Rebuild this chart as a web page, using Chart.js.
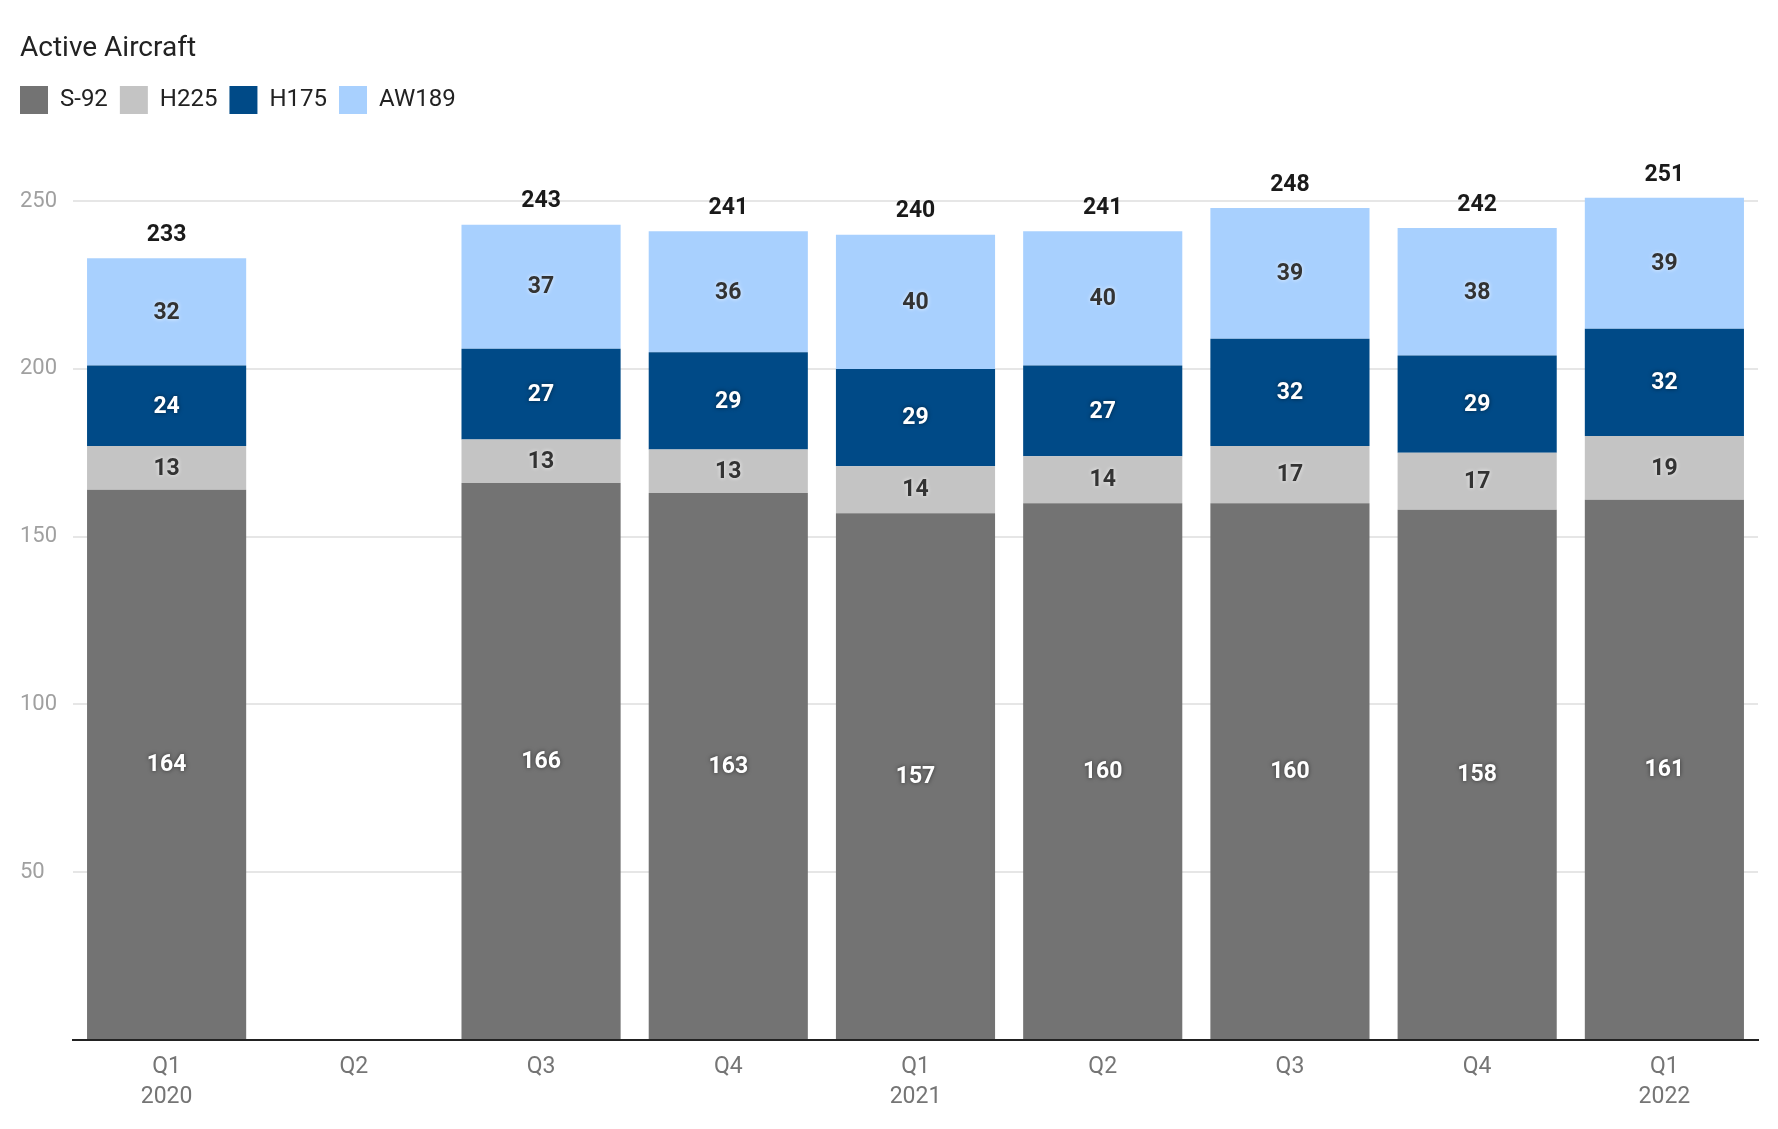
<!DOCTYPE html>
<html>
<head>
<meta charset="utf-8">
<title>Active Aircraft</title>
<script src="https://cdn.jsdelivr.net/npm/chart.js@4"></script>
<style>
  html, body { margin: 0; padding: 0; background: #fff; }
  #wrap { width: 1778px; height: 1129px; }
</style>
</head>
<body>
<div id="wrap"><canvas id="aircraftChart" width="1778" height="1129"></canvas></div>
<script>
// Datos
const quarters = [['Q1', '2020'], 'Q2', 'Q3', 'Q4', ['Q1', '2021'], 'Q2', 'Q3', 'Q4', ['Q1', '2022']];
const s92 = [164, null, 166, 163, 157, 160, 160, 158, 161];
const h225 = [13, null, 13, 13, 14, 14, 17, 17, 19];
const h175 = [24, null, 27, 29, 29, 27, 32, 29, 32];
const aw189 = [32, null, 37, 36, 40, 40, 39, 38, 39];
const yTicks = [50, 100, 150, 200, 250];

const FONT = 'Roboto';
const LEGEND_PAD = 12;

// Etiquetas dentro de cada segmento y total arriba
const labelsPlugin = {
    id: 'segmentLabels',
    afterDatasetsDraw(chart) {
        const ctx = chart.ctx;
        ctx.save();
        ctx.font = 'bold 23px ' + FONT;
        ctx.textAlign = 'center';
        ctx.textBaseline = 'middle';
        chart.data.datasets.forEach((ds, i) => {
            const meta = chart.getDatasetMeta(i);
            meta.data.forEach((bar, j) => {
                const v = ds.data[j];
                if (v === null) return;
                const dark = ds.labelColor !== '#fff';
                ctx.fillStyle = ds.labelColor;
                ctx.shadowColor = dark ? 'rgba(255,255,255,0.8)' : 'rgba(0,0,0,0.55)';
                ctx.shadowBlur = 4;
                ctx.fillText(v, bar.x, (bar.y + bar.base) / 2 + 1);
            });
        });
        // totales
        const last = chart.data.datasets.length - 1;
        const topMeta = chart.getDatasetMeta(last);
        ctx.shadowColor = 'transparent';
        ctx.shadowBlur = 0;
        ctx.fillStyle = '#1a1a1a';
        topMeta.data.forEach((bar, j) => {
            if (chart.data.datasets[last].data[j] === null) return;
            let total = 0;
            chart.data.datasets.forEach(ds => { total += ds.data[j] || 0; });
            ctx.fillText(total, bar.x, bar.y - 23);
        });
        ctx.restore();
    }
};

// Mover la leyenda a la izquierda para alinearla con el título
const legendShift = {
    id: 'legendShift',
    afterLayout(chart) {
        if (chart.legend) {
            chart.legend.left -= LEGEND_PAD;
            chart.legend.right -= LEGEND_PAD;
        }
    }
};

const ctx = document.getElementById('aircraftChart').getContext('2d');
new Chart(ctx, {
    type: 'bar',
    data: {
        labels: quarters,
        datasets: [
            { label: 'S-92', data: s92, backgroundColor: '#737373', labelColor: '#fff' },
            { label: 'H225', data: h225, backgroundColor: '#c4c4c4', labelColor: '#333' },
            { label: 'H175', data: h175, backgroundColor: '#004a87', labelColor: '#fff' },
            { label: 'AW189', data: aw189, backgroundColor: '#a8d0fe', labelColor: '#333' }
        ]
    },
    options: {
        responsive: false,
        animation: false,
        devicePixelRatio: 1,
        layout: { padding: { left: 20, right: 20, top: 0, bottom: 0 } },
        datasets: {
            bar: { borderWidth: 0, categoryPercentage: 1, barPercentage: 0.85 }
        },
        scales: {
            x: {
                stacked: true,
                grid: { display: false, drawTicks: false },
                border: { display: true, color: '#222', width: 2 },
                ticks: {
                    color: '#757575',
                    padding: 12,
                    maxRotation: 0,
                    font: { family: FONT, size: 23, lineHeight: 1.3 }
                },
                afterFit(scale) { scale.height = 89; }
            },
            y: {
                stacked: true,
                min: 0,
                max: 273,
                grid: {
                    drawTicks: false,
                    lineWidth: 2,
                    color: c => (c.tick && c.tick.value === 0) ? 'rgba(0,0,0,0)' : '#e6e6e6'
                },
                border: { display: false },
                afterBuildTicks(scale) {
                    scale.ticks = [0].concat(yTicks).map(v => ({ value: v }));
                },
                ticks: {
                    color: '#a0a0a0',
                    crossAlign: 'far',
                    font: { family: FONT, size: 22 },
                    callback: v => (v === 0 ? '' : v)
                },
                afterFit(scale) { scale.width = 53; }
            }
        },
        plugins: {
            title: {
                display: true,
                text: 'Active Aircraft',
                align: 'start',
                color: '#222',
                font: { family: FONT, size: 28, weight: 'normal' },
                padding: { top: 32, bottom: 8.4 }
            },
            legend: {
                display: true,
                align: 'start',
                labels: {
                    boxWidth: 28,
                    boxHeight: 28,
                    padding: LEGEND_PAD,
                    color: '#222',
                    font: { family: FONT, size: 24 }
                }
            },
            tooltip: { enabled: false }
        }
    },
    plugins: [labelsPlugin, legendShift]
});
</script>
</body>
</html>
